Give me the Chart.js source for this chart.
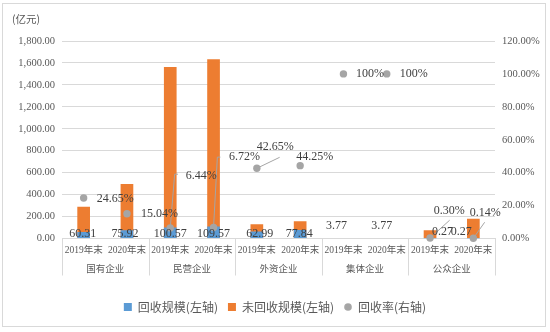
<!DOCTYPE html>
<html>
<head>
<meta charset="utf-8">
<title>回收规模</title>
<script src="https://cdn.jsdelivr.net/npm/chart.js@4.4.1/dist/chart.umd.min.js"></script>
<style>
  html, body { margin: 0; padding: 0; background: #fff; }
  #wrap { position: relative; width: 550px; height: 332px; }
</style>
</head>
<body>
<div id="wrap"><canvas id="recoveryChart" width="550" height="332"></canvas></div>
<script>
// data
const periods = ['2019年末', '2020年末', '2019年末', '2020年末', '2019年末', '2020年末', '2019年末', '2020年末', '2019年末', '2020年末'];
const groups = ['国有企业', '民营企业', '外资企业', '集体企业', '公众企业'];
const recovered = [60.31, 75.92, 100.57, 109.57, 62.99, 77.84, 3.77, 3.77, 0.27, 0.27];
const unrecovered = [289, 497, 1562, 1633, 130, 158, 0, 0, 76, 180];
const recoveryRate = [24.65, 15.04, 6.44, 6.72, 42.65, 44.25, 100, 100, 0.30, 0.14];
const leftMax = 1800, leftStep = 200;
const rightMax = 120, rightStep = 20;

const BLUE = '#5b9bd5', ORANGE = '#ed7d31', GREY = '#a5a5a5';
const TEXT = '#595959', LABEL = '#404040', LINE = '#d9d9d9';
const SERIF = "'Liberation Serif', 'Noto Sans CJK SC', serif";
const CJK = "'Noto Sans CJK SC', sans-serif";

// where the value labels sit, relative to their bar base / point
const barLabelShift = [[-1, -5], [-2, -5], [0, -5], [0, -5], [3, -5], [-1, -5], [-7, -13], [-5, -13], [12.5, -6.5], [-12, -6.5]];
const rateLabelShift = [
    { dx: 13, dy: 1 },
    { dx: 14, dy: 0 },
    { dx: 15.5, dy: -52, leader: [[4.4, -53.7], [7.7, -53.7]] },
    { dx: 15.4, dy: -70.3, leader: [[3.8, -70.3], [6.8, -70.3]] },
    { dx: 0, dy: -21, leader: [[22.8, -11]] },
    { dx: -4, dy: -9 },
    { dx: 12.5, dy: 0 },
    { dx: 13, dy: 0 },
    { dx: 3.6, dy: -27, leader: [[19.6, -17.8]] },
    { dx: -3.7, dy: -25.5, leader: [[11.3, -16]] }
];

const fmtRate = v => (v === 100 ? '100%' : v.toFixed(2) + '%');

// small round marker for the legend
const dot = document.createElement('canvas');
dot.width = 8; dot.height = 8;
(function () {
    const c = dot.getContext('2d');
    c.fillStyle = GREY;
    c.beginPath();
    c.arc(4, 4, 3.8, 0, Math.PI * 2);
    c.fill();
})();

const decorPlugin = {
    id: 'decor',
    beforeDraw(chart) {
        const ctx = chart.ctx;
        ctx.save();
        ctx.strokeStyle = LINE;
        ctx.lineWidth = 1;
        ctx.strokeRect(2.5, 3.5, 543, 323);
        ctx.fillStyle = TEXT;
        ctx.font = '10.5px ' + CJK;
        ctx.textBaseline = 'middle';
        ctx.textAlign = 'left';
        ctx.fillText('(亿元)', 12, 19);
        ctx.restore();
    },
    afterDatasetDraw(chart, args) {
        // leader lines go under the rate points
        if (args.index !== 0) return;
        const pts = chart.getDatasetMeta(2).data;
        const ctx = chart.ctx;
        ctx.save();
        ctx.strokeStyle = GREY;
        ctx.lineWidth = 1;
        rateLabelShift.forEach((s, i) => {
            if (!s.leader) return;
            const p = pts[i];
            ctx.beginPath();
            ctx.moveTo(p.x, p.y);
            s.leader.forEach(([lx, ly]) => ctx.lineTo(p.x + lx, p.y + ly));
            ctx.stroke();
        });
        ctx.restore();
    },
    afterDatasetsDraw(chart) {
        const ctx = chart.ctx;
        const bars = chart.getDatasetMeta(0).data;
        const pts = chart.getDatasetMeta(2).data;
        const base = chart.scales.y.getPixelForValue(0);
        ctx.save();
        ctx.fillStyle = LABEL;
        ctx.font = '12px ' + SERIF;
        ctx.textBaseline = 'middle';
        ctx.textAlign = 'center';
        bars.forEach((b, i) => {
            const [dx, dy] = barLabelShift[i];
            ctx.fillText(recovered[i].toFixed(2), b.x + dx, base + dy);
        });
        ctx.textAlign = 'left';
        pts.forEach((p, i) => {
            const s = rateLabelShift[i];
            ctx.fillText(fmtRate(recoveryRate[i]), p.x + s.dx, p.y + s.dy);
        });
        ctx.restore();
    },
    afterDraw(chart) {
        // second row of the category axis
        const ctx = chart.ctx;
        const x = chart.scales.x;
        const cw = (x.right - x.left) / periods.length;
        const top = x.top;
        ctx.save();
        ctx.strokeStyle = LINE;
        ctx.lineWidth = 1;
        for (let g = 0; g <= groups.length; g++) {
            const px = Math.round(x.left + g * 2 * cw) + 0.5;
            ctx.beginPath();
            ctx.moveTo(px, top);
            ctx.lineTo(px, top + 37);
            ctx.stroke();
        }
        ctx.fillStyle = TEXT;
        ctx.font = '9.5px ' + CJK;
        ctx.textAlign = 'center';
        ctx.textBaseline = 'middle';
        groups.forEach((name, g) => {
            ctx.fillText(name, x.left + (g * 2 + 1) * cw, top + 29.5);
        });
        ctx.restore();
    }
};

const chart = new Chart(document.getElementById('recoveryChart'), {
    data: {
        labels: periods,
        datasets: [
            {
                type: 'bar',
                label: '回收规模(左轴)',
                data: recovered,
                backgroundColor: BLUE,
                grouped: false,
                order: 1,
                yAxisID: 'y'
            },
            {
                type: 'bar',
                label: '未回收规模(左轴)',
                data: unrecovered,
                backgroundColor: ORANGE,
                grouped: false,
                order: 2,
                yAxisID: 'y'
            },
            {
                type: 'line',
                label: '回收率(右轴)',
                data: recoveryRate,
                showLine: false,
                backgroundColor: GREY,
                borderColor: GREY,
                pointBackgroundColor: GREY,
                pointBorderWidth: 0,
                pointRadius: 3.7,
                clip: false,
                order: 0,
                yAxisID: 'y1'
            }
        ]
    },
    options: {
        responsive: false,
        animation: false,
        devicePixelRatio: 1,
        events: [],
        layout: { padding: { top: 41, bottom: 9, left: 0, right: 0 } },
        datasets: {
            bar: { barPercentage: 0.293, categoryPercentage: 1 }
        },
        scales: {
            x: {
                offset: true,
                grid: { display: false, drawTicks: false },
                border: { display: true, color: LINE },
                ticks: { color: TEXT, font: { family: SERIF, size: 9.5 }, padding: 6, maxRotation: 0, autoSkip: false },
                afterFit(scale) { scale.height = 52.5; }
            },
            y: {
                position: 'left',
                min: 0,
                max: leftMax,
                grid: { color: LINE, drawTicks: false },
                border: { display: false },
                ticks: {
                    stepSize: leftStep,
                    padding: 7,
                    color: TEXT,
                    font: { family: SERIF, size: 10.5 },
                    callback: v => v.toLocaleString('en-US', { minimumFractionDigits: 2, maximumFractionDigits: 2 })
                },
                afterFit(scale) { scale.width = 62; }
            },
            y1: {
                position: 'right',
                min: 0,
                max: rightMax,
                grid: { display: false, drawTicks: false },
                border: { display: false },
                ticks: {
                    stepSize: rightStep,
                    padding: 7,
                    color: TEXT,
                    font: { family: SERIF, size: 10.5 },
                    callback: v => v.toFixed(2) + '%'
                },
                afterFit(scale) { scale.width = 55; }
            }
        },
        plugins: {
            tooltip: { enabled: false },
            legend: {
                position: 'bottom',
                labels: {
                    usePointStyle: true,
                    boxWidth: 8,
                    boxHeight: 8,
                    padding: 10,
                    color: TEXT,
                    font: { family: CJK, size: 12 },
                    generateLabels(c) {
                        const items = Chart.defaults.plugins.legend.labels.generateLabels(c);
                        items.forEach(it => {
                            it.pointStyle = it.datasetIndex === 2 ? dot : 'rect';
                            it.lineWidth = 0;
                        });
                        return items.sort((a, b) => a.datasetIndex - b.datasetIndex);
                    }
                }
            }
        }
    },
    plugins: [decorPlugin]
});
</script>
</body>
</html>
